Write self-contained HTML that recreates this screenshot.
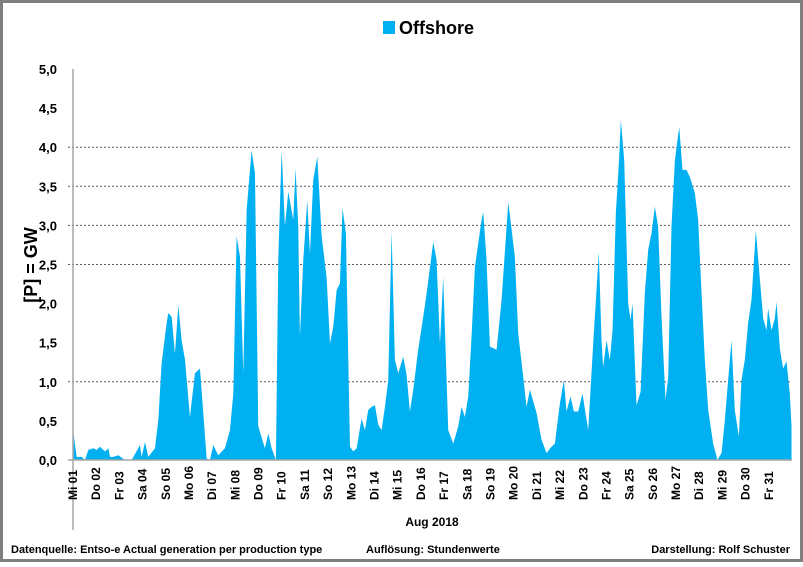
<!DOCTYPE html>
<html><head><meta charset="utf-8"><style>
html,body{margin:0;padding:0;background:#fff;}
body{width:803px;height:562px;overflow:hidden;font-family:"Liberation Sans",sans-serif;}
</style></head><body>
<svg id="chart" width="803" height="562" xmlns="http://www.w3.org/2000/svg" font-family="Liberation Sans, sans-serif">
<rect x="1.5" y="1.5" width="800" height="559" fill="#fff" stroke="#7f7f7f" stroke-width="3"/>
<g id="grid"></g>
<g id="series"></g>
<g id="axes"></g>
<g>
<rect x="383" y="21" width="12" height="13" fill="#00b0f0"/>
<text x="399" y="34" font-size="18" font-weight="bold" fill="#000">Offshore</text>
</g>
<text transform="translate(37,265) rotate(-90)" text-anchor="middle" font-size="18" font-weight="bold">[P]  =  GW</text>
<text x="432" y="526" text-anchor="middle" font-size="12" font-weight="bold">Aug 2018</text>
<text x="11" y="553" font-size="11" font-weight="bold">Datenquelle: Entso-e  Actual generation per production type</text>
<text x="366" y="553" font-size="11" font-weight="bold">Auflösung: Stundenwerte</text>
<text x="790" y="553" text-anchor="end" font-size="11" font-weight="bold">Darstellung:  Rolf Schuster</text>
</svg>
<script>
const hours=[0,3.8,9,12.4,15.9,21,24.5,27.9,33.1,36.6,38.3,41.7,46.9,53.8,60.7,69.3,71,74.5,77.9,84.8,88.3,91.7,96.9,98.6,102.1,105.5,109,112.4,115.9,121,126.2,131.4,138.3,141.7,145.2,150.3,157.2,162.4,165.9,169.3,172.8,176.2,179.7,184.8,188.3,191.7,198.6,202.1,205.5,210,212.4,215.9,219.3,222.8,227.9,230.3,233.1,234.8,238.3,242.4,245.2,248.6,252.8,257.3,262.4,265.9,269.3,272.8,276.2,278.9,282.4,286.6,290,293.5,298.6,302.1,305.5,309,312.4,315.9,319.3,322.8,326.2,329.7,333.1,336.6,341.7,345.2,348.6,352.1,357.2,362.4,365.9,372.8,376.2,379.7,383.1,388.3,393.5,398.6,402.1,405.5,409,412.4,415.9,422.8,424.5,427.9,431.4,438.3,443.5,450.4,457.2,460.7,465.9,469.3,472.8,479.7,484.8,490,495.2,498.6,503.8,507.9,510.7,514.8,518.3,522.8,527.2,533.1,538.3,544.1,546.9,548.6,552.1,555.5,558.3,561.7,565.2,566.9,570.4,574.5,576.9,579,583.1,587.3,591.7,595.2,598.6,602.1,605.5,609,613.1,615.9,619.3,622.8,627.3,630.7,634.8,638.3,643.5,646.9,650.4,653.8,657.3,662.4,666.9,671.1,674.5,677.9,681.4,684.8,689,691.7,695.2,698.6,702.1,706.6,710.7,714.2,717.6,719.3,722.8,726.2,728,731.4,734.8,738.3,741.7,743.5];
const gw=[0.38,0.04,0.04,0,0.13,0.15,0.13,0.17,0.11,0.15,0.04,0.04,0.06,0,0,0.19,0.04,0.23,0.04,0.15,0.51,1.24,1.75,1.88,1.83,1.36,1.98,1.53,1.28,0.55,1.11,1.17,0.02,0,0.19,0.06,0.15,0.38,0.85,2.86,2.6,1.11,3.2,3.96,3.67,0.43,0.15,0.34,0.15,0,2.56,3.96,2.99,3.43,3.07,3.73,2.98,1.58,2.56,3.32,2.64,3.58,3.88,2.86,2.34,1.49,1.7,2.17,2.26,3.22,2.9,0.17,0.11,0.15,0.53,0.38,0.64,0.68,0.7,0.45,0.38,0.68,1.02,2.92,1.28,1.11,1.32,1.09,0.62,0.9,1.41,1.83,2.13,2.79,2.56,1.49,2.34,0.38,0.21,0.43,0.68,0.55,0.81,1.58,2.47,3.07,3.17,2.56,1.45,1.41,2.05,3.3,2.6,1.62,1.06,0.68,0.9,0.6,0.26,0.09,0.17,0.21,0.72,1.02,0.62,0.81,0.62,0.62,0.85,0.38,1.49,2.66,1.53,1.19,1.53,1.28,1.66,3.15,3.88,4.35,3.83,2,1.79,2,0.7,0.87,2.13,2.69,2.9,3.24,2.98,1.83,0.77,1.06,2.98,3.83,4.26,3.71,3.71,3.62,3.41,3.07,2.13,1.28,0.64,0.21,0,0.09,0.51,1.02,1.53,0.64,0.3,1.02,1.28,1.75,2.05,2.94,2.32,1.81,1.66,1.94,1.66,1.81,2.02,1.43,1.17,1.26,0.85,0.43];
const yTicks=["0,0","0,5","1,0","1,5","2,0","2,5","3,0","3,5","4,0","4,5","5,0"];
const gridValues=[1,2.5,3,3.5,4];
const dayLabels=["Mi 01","Do 02","Fr 03","Sa 04","So 05","Mo 06","Di 07","Mi 08","Do 09","Fr 10","Sa 11","So 12","Mo 13","Di 14","Mi 15","Do 16","Fr 17","Sa 18","So 19","Mo 20","Di 21","Mi 22","Do 23","Fr 24","Sa 25","So 26","Mo 27","Di 28","Mi 29","Do 30","Fr 31"];
const NS="http://www.w3.org/2000/svg";
const X0=73,X1=792,Y0=460,Y1=69,HMAX=744,VMAX=5;
const xs=h=>X0+(X1-X0)*h/HMAX;
const ys=v=>Y0-(Y0-Y1)*v/VMAX;
function mk(t,a,p){const e=document.createElementNS(NS,t);for(const k in a)e.setAttribute(k,a[k]);p.appendChild(e);return e;}
const grid=document.getElementById('grid'),series=document.getElementById('series'),axes=document.getElementById('axes');
gridValues.forEach(v=>{const l=mk('line',{x1:68,x2:X1,y1:ys(v),y2:ys(v),stroke:'#595959','stroke-width':1,'stroke-dasharray':'2,2'},grid);

});
let d='M'+xs(hours[0])+','+Y0;
for(let i=0;i<hours.length;i++)d+=' L'+xs(hours[i]).toFixed(2)+','+ys(gw[i]).toFixed(2);
d+=' L'+xs(hours[hours.length-1])+','+Y0+' Z';
const area=mk('path',{d:d,fill:'#00b0f0'},series);


const ya=mk('line',{x1:X0,x2:X0,y1:Y1,y2:530,stroke:'#a6a6a6','stroke-width':1.5},axes);


const xa=mk('line',{x1:68,x2:X1,y1:Y0,y2:Y0,stroke:'#a6a6a6','stroke-width':1.5},axes);


yTicks.forEach((t,i)=>{const e=mk('text',{x:57,y:ys(i*0.5)+5,'text-anchor':'end','font-size':13,'font-weight':'bold'},axes);e.textContent=t;

});
dayLabels.forEach((t,i)=>{const x=xs(i*24)+4;const e=mk('text',{transform:'translate('+x+',500) rotate(-90)','font-size':12,'font-weight':'bold'},axes);e.textContent=t;

});
</script>
</body></html>
